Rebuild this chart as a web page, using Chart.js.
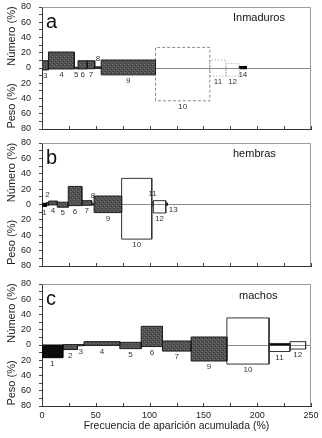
<!DOCTYPE html>
<html><head><meta charset="utf-8">
<script src="https://cdn.jsdelivr.net/npm/chart.js@4.4.1/dist/chart.umd.min.js"></script>
<style>
html,body{margin:0;padding:0;background:#fff;}
#wrap{position:relative;width:322px;height:438px;overflow:hidden;background:#fff;}
canvas{position:absolute;left:0;}
</style></head><body>
<div id="wrap">
<canvas id="ca" width="322" height="137" style="top:0"></canvas>
<canvas id="cb" width="322" height="140" style="top:137px"></canvas>
<canvas id="cc" width="322" height="161" style="top:277px"></canvas>
</div>
<script>
// ---------- DATA ----------
const xTicks = [0, 25, 50, 75, 100, 125, 150, 175, 200, 225, 250];
const yTicks = [-80, -60, -40, -20, 0, 20, 40, 60, 80];

// a: Inmaduros
const aIds    = [3, 4, 5, 6, 7, 8, 9, 10, 11, 12, 14];
const aEdges  = [0, 6, 30, 33.5, 42, 49, 55, 105.5, 156, 171, 183.3, 190];
const aNumero = [9.5, 21, 1, 9.5, 9.5, 1.5, 10.5, 27, 10.5, 6, 2];
const aPeso   = [2.5, 1.3, 1, 1.3, 1, 0.5, 9, 43, 10.5, 10.5, 1];

// b: hembras
const bIds    = [1, 2, 4, 5, 6, 7, 8, 9, 10, 11, 12, 13];
const bEdges  = [0, 4, 6.2, 14.2, 24.4, 37, 46.2, 48.4, 74, 102, 103.5, 115, 116.5];
const bNumero = [1.5, 2.5, 4.5, 3, 23.5, 5, 1, 11, 34, 3.5, 5, 2];
const bPeso   = [2.5, 1, 0.5, 3.5, 1.5, 1, 0.5, 10.5, 45, 2, 11, 1];

// c: machos
const cIds    = [1, 2, 3, 4, 5, 6, 7, 9, 10, 11, 12];
const cEdges  = [0, 19.3, 33, 39, 72.3, 92.2, 112, 138.6, 171.8, 211, 230.4, 245];
const cNumero = [0, 0.5, 0.5, 4.4, 3.5, 24.5, 5.3, 10.5, 35.5, 2, 4.4];
const cPeso   = [16.6, 6, 1, 0.5, 4.8, 2, 8, 21, 25, 8.5, 5.3];

// ---------- STYLE (not data) ----------
const aStyle = ['dark','dark','dark','dark','dark','dark','dark','dashed','dotted','dotted','black'];
const bStyle = ['black','dark','dark','dark','dark','dark','dark','dark','white','white','white','dark'];
const cStyle = ['black','dark','dark','dark','dark','dark','dark','dark','white','whiteBlackTop','white'];
const aPlace = ['below','below','below','below','below','above','below','below','below','below','below'];
const bPlace = ['below','above','below','below','below','below','above','below','below','above','below','right'];
const cPlace = ['below','below','below','below','below','below','below','below','below','below','below'];

const FONT = '"Liberation Sans", Arial, Helvetica, sans-serif';

function makeStipple(){
  const c = document.createElement('canvas'); c.width = 4; c.height = 4;
  const g = c.getContext('2d');
  g.fillStyle = '#525252'; g.fillRect(0,0,4,4);
  g.fillStyle = '#767676'; g.fillRect(0,0,1,1); g.fillRect(2,2,1,1);
  g.fillStyle = '#3c3c3c'; g.fillRect(1,3,1,1); g.fillRect(3,1,1,1);
  return g.createPattern(c, 'repeat');
}
const STIPPLE = makeStipple();

function styleOf(s){
  switch(s){
    case 'dark':   return {bg: STIPPLE, bc: '#1e1e1e', dash: [], bw: 1};
    case 'black':  return {bg: '#0d0d0d', bc: '#000', dash: [], bw: 1};
    case 'dashed': return {bg: 'rgba(0,0,0,0)', bc: '#8c8c8c', dash: [3,2], bw: 1};
    case 'dotted': return {bg: 'rgba(0,0,0,0)', bc: '#9a9a9a', dash: [1,2], bw: 1};
    default:       return {bg: 'rgba(0,0,0,0)', bc: '#333', dash: [], bw: 1};
  }
}

function rect(x0, x1, top, bot, st){
  return {
    data: [{x:x0,y:bot},{x:x0,y:top},{x:x1,y:top},{x:x1,y:bot},{x:x0,y:bot}],
    fill: 'shape', showLine: true, pointRadius: 0, pointHoverRadius: 0,
    borderWidth: st.bw, borderColor: st.bc, backgroundColor: st.bg,
    borderDash: st.dash, tension: 0, borderJoinStyle: 'miter'
  };
}

function buildDatasets(edges, numero, peso, styles){
  const ds = [];
  for (let i = 0; i < numero.length; i++){
    const s = styles[i];
    ds.push(rect(edges[i], edges[i+1], numero[i], -peso[i], styleOf(s === 'whiteBlackTop' ? 'white' : s)));
    if (s === 'whiteBlackTop') ds.push(rect(edges[i], edges[i+1], numero[i], 0, styleOf('black')));
  }
  return ds;
}

const decor = {
  id: 'decor',
  beforeDatasetsDraw(chart, args, o){
    const {ctx, chartArea: a} = chart;
    ctx.save();
    ctx.strokeStyle = '#9a9a9a'; ctx.lineWidth = 1;
    ctx.beginPath();
    ctx.moveTo(a.left, Math.round(a.top) + 0.5);
    ctx.lineTo(Math.round(a.right) - 0.5, Math.round(a.top) + 0.5);
    ctx.lineTo(Math.round(a.right) - 0.5, a.bottom);
    ctx.stroke();
    ctx.restore();
  },
  afterDraw(chart, args, o){
    const {ctx, chartArea: a, scales: {x, y}} = chart;
    ctx.save();
    // inward x ticks
    ctx.strokeStyle = '#444'; ctx.lineWidth = 1;
    x.ticks.forEach(t => {
      const px = Math.round(x.getPixelForValue(t.value)) + 0.5;
      ctx.beginPath(); ctx.moveTo(px, a.bottom); ctx.lineTo(px, a.bottom - 3); ctx.stroke();
    });
    // panel letter and title
    ctx.fillStyle = '#111';
    ctx.font = '20px ' + FONT; ctx.textAlign = 'left'; ctx.textBaseline = 'alphabetic';
    ctx.fillText(o.letter, a.left + 4, a.top + 21);
    ctx.font = '11px ' + FONT; ctx.textBaseline = 'middle';
    ctx.fillText(o.title, o.titleX, a.top + o.titleDy);
    // y titles
    const z = y.getPixelForValue(0);
    ctx.fillStyle = '#222';
    ctx.font = '11px ' + FONT; ctx.textAlign = 'center';
    ctx.save(); ctx.translate(12, z - 32); ctx.rotate(-Math.PI/2); ctx.fillText('Número (%)', 0, 0); ctx.restore();
    ctx.save(); ctx.translate(12, z + 38); ctx.rotate(-Math.PI/2); ctx.fillText('Peso (%)', 0, 0); ctx.restore();
    // bar labels
    ctx.font = '8px ' + FONT; ctx.fillStyle = '#333';
    for (let i = 0; i < o.ids.length; i++){
      const x0 = x.getPixelForValue(o.edges[i]), x1 = x.getPixelForValue(o.edges[i+1]);
      const p = o.place[i];
      if (p === 'above'){
        ctx.textAlign = 'center';
        ctx.fillText(String(o.ids[i]), (x0 + x1)/2, y.getPixelForValue(o.numero[i]) - 8);
      } else if (p === 'right'){
        ctx.textAlign = 'left';
        ctx.fillText(String(o.ids[i]), x1 + 1.5, z + 5);
      } else {
        ctx.textAlign = 'center';
        ctx.fillText(String(o.ids[i]), (x0 + x1)/2, y.getPixelForValue(-o.peso[i]) + 6);
      }
    }
    ctx.restore();
  }
};

function makeChart(id, cfg){
  const isC = cfg.showX;
  return new Chart(document.getElementById(id), {
    type: 'line',
    data: { datasets: buildDatasets(cfg.edges, cfg.numero, cfg.peso, cfg.styles) },
    plugins: [decor],
    options: {
      responsive: false, animation: false, events: [], devicePixelRatio: 1,
      layout: { padding: { top: cfg.padTop, right: 11, left: 0, bottom: 0 } },
      plugins: {
        legend: { display: false }, tooltip: { enabled: false },
        decor: { letter: cfg.letter, title: cfg.title, titleX: cfg.titleX, titleDy: cfg.titleDy,
                 ids: cfg.ids, edges: cfg.edges, numero: cfg.numero, peso: cfg.peso, place: cfg.place }
      },
      scales: {
        x: {
          type: 'linear', min: xTicks[0], max: xTicks[xTicks.length-1],
          afterFit: s => { s.height = cfg.xHeight; s.paddingLeft = 0; s.paddingRight = 0; },
          afterBuildTicks: s => { s.ticks = xTicks.map(v => ({value: v})); },
          ticks: { display: isC, autoSkip: false, maxRotation: 0, padding: 4, color: '#222',
                   font: { family: FONT, size: 9 }, callback: v => (v % 50 === 0 ? String(v) : '') },
          grid: { display: false, drawTicks: false, tickLength: 0 },
          border: { display: true, color: '#333', width: 1 },
          title: { display: isC, text: 'Frecuencia de aparición acumulada (%)', color: '#222',
                   font: { family: FONT, size: 10.5 }, padding: { top: 0, bottom: 6 } }
        },
        y: {
          type: 'linear', min: yTicks[0], max: yTicks[yTicks.length-1],
          afterFit: s => { s.width = 42; s.paddingTop = 0; s.paddingBottom = 0; },
          ticks: { stepSize: 10, autoSkip: false, padding: 8, color: '#222',
                   font: { family: FONT, size: 9 },
                   callback: v => (yTicks.includes(v) ? String(Math.abs(v)) : '') },
          grid: { drawOnChartArea: true, drawTicks: true, tickLength: 3, tickColor: '#444',
                  color: c => (c.tick && c.tick.value === 0 ? '#8a8a8a' : 'rgba(0,0,0,0)'), lineWidth: 1 },
          border: { display: true, color: '#333', width: 1 }
        }
      }
    }
  });
}

makeChart('ca', { letter: 'a', title: 'Inmaduros', titleX: 233, titleDy: 10.5, padTop: 7, xHeight: 8, showX: false,
  ids: aIds, edges: aEdges, numero: aNumero, peso: aPeso, styles: aStyle, place: aPlace });
makeChart('cb', { letter: 'b', title: 'hembras', titleX: 233, titleDy: 11, padTop: 6, xHeight: 11, showX: false,
  ids: bIds, edges: bEdges, numero: bNumero, peso: bPeso, styles: bStyle, place: bPlace });
makeChart('cc', { letter: 'c', title: 'machos', titleX: 239, titleDy: 12, padTop: 7, xHeight: 32, showX: true,
  ids: cIds, edges: cEdges, numero: cNumero, peso: cPeso, styles: cStyle, place: cPlace });
</script>
</body></html>
